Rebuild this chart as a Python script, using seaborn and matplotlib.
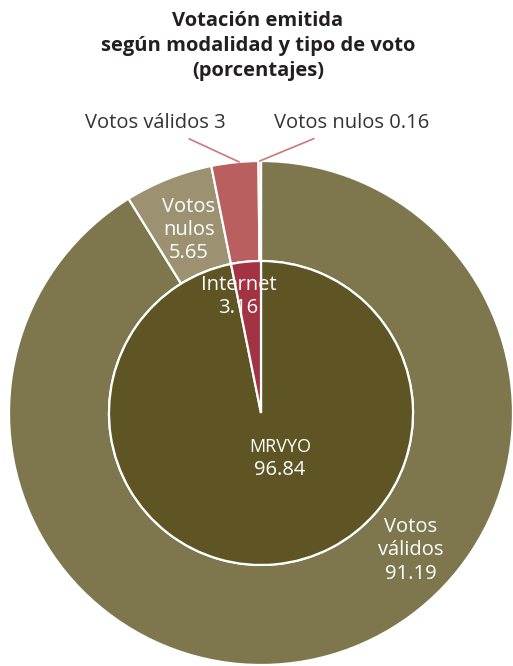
import numpy as np
import seaborn as sns
import matplotlib.pyplot as plt

# Inner ring: modalidad
modalidad = ["MRVYO", "Internet"]
modalidad_pct = [96.84, 3.16]

# Outer ring: tipo de voto (por modalidad)
tipo = ["Votos válidos", "Votos nulos", "Votos válidos", "Votos nulos"]
tipo_pct = [91.19, 5.65, 3, 0.16]

inner_colors = ["#5f5424", "#a33342"]
outer_colors = ["#7e774e", "#9c9271", "#b95f5f", "#d58f8c"]

sns.set_theme(style="white")
plt.rcParams["font.family"] = ["Open Sans", "DejaVu Sans"]

fig = plt.figure(figsize=(5.13, 6.66), dpi=100)
# axes covering the circle: center (261, 413) px, radius 252 px
R_px = 252
ax = fig.add_axes([(261 - R_px) / 513, (666 - 413 - R_px) / 666, 2 * R_px / 513, 2 * R_px / 666])

r_in = 152 / 252
wedge_kw = dict(edgecolor="white", linewidth=1.6)
outer, _ = ax.pie(tipo_pct, radius=1, colors=outer_colors, startangle=90, counterclock=False,
                  wedgeprops=dict(width=1 - r_in, **wedge_kw))
inner, _ = ax.pie(modalidad_pct, radius=r_in, colors=inner_colors, startangle=90, counterclock=False,
                  wedgeprops=wedge_kw)
ax.set_xlim(-1, 1)
ax.set_ylim(-1, 1)
ax.set_aspect("equal")
ax.axis("off")


def polar(r, ang):
    a = np.deg2rad(ang)
    return r * np.cos(a), r * np.sin(a)


def mid(w):
    return (w.theta1 + w.theta2) / 2


# labels inside
fs = 14.5
ax.text(*polar(0.78, mid(outer[1])), f"Votos\nnulos\n{tipo_pct[1]:.2f}", color="white", fontsize=fs,
        ha="center", va="center", linespacing=1.2)
ax.text(0.595, -0.545, f"Votos\nválidos\n{tipo_pct[0]:.2f}", color="white", fontsize=fs,
        ha="center", va="center", linespacing=1.25)
ax.text(*polar(0.47, 101), f"{modalidad[1]}\n{modalidad_pct[1]:.2f}", color="white", fontsize=fs,
        ha="center", va="center", linespacing=1.2)
ax.text(0.075, -0.135, modalidad[0], color="white", fontsize=13, ha="center", va="center")
ax.text(0.075, -0.225, f"{modalidad_pct[0]:.2f}", color="white", fontsize=14.5, ha="center", va="center")

# external labels with leader lines
line_col = "#c97a78"
ax.annotate(f"{tipo[2]} {tipo_pct[2]:g}", xy=polar(1.0, mid(outer[2]) - 1), xytext=(-0.14, 1.15),
            ha="right", va="center", fontsize=fs, color="#333333",
            arrowprops=dict(arrowstyle="-", color=line_col, lw=1.2, shrinkA=4, shrinkB=0))
ax.annotate(f"{tipo[3]} {tipo_pct[3]:.2f}", xy=polar(1.0, mid(outer[3])), xytext=(0.05, 1.15),
            ha="left", va="center", fontsize=fs, color="#333333",
            arrowprops=dict(arrowstyle="-", color=line_col, lw=1.2, shrinkA=4, shrinkB=0))

fig.text(258 / 513, 1 - 46 / 666, "Votación emitida\nsegún modalidad y tipo de voto\n(porcentajes)",
         ha="center", va="center", fontsize=14.5, fontweight="bold", color="#231f20", linespacing=1.32)

fig.savefig("out.png", dpi=100)
